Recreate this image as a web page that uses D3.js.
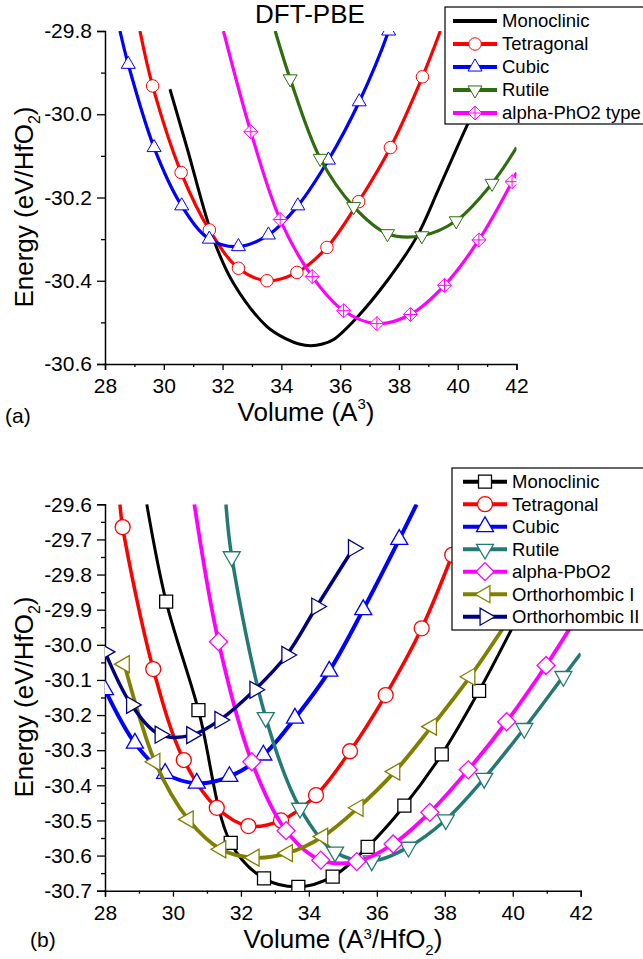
<!DOCTYPE html>
<html>
<head>
<meta charset="utf-8">
<script src="https://cdn.jsdelivr.net/npm/d3@7"></script>
<style>
  body { margin: 0; background: #fff; }
  svg text { font-family: "Liberation Sans", Arial, sans-serif; }
</style>
</head>
<body>
<svg id="chart" width="643" height="959"></svg>
<script>
// ---- axis ticks ----
const volTicks = [28, 29, 30, 31, 32, 33, 34, 35, 36, 37, 38, 39, 40, 41, 42];
const volLabels = [28, 30, 32, 34, 36, 38, 40, 42];
const eTicksA = [-30.6, -30.5, -30.4, -30.3, -30.2, -30.1, -30.0, -29.9, -29.8];
const eLabelsA = [-30.6, -30.4, -30.2, -30.0, -29.8];
const eTicksB = [-30.7, -30.65, -30.6, -30.55, -30.5, -30.45, -30.4, -30.35, -30.3, -30.25, -30.2,
                 -30.15, -30.1, -30.05, -30.0, -29.95, -29.9, -29.85, -29.8, -29.75, -29.7, -29.65, -29.6];
const eLabelsB = [-30.7, -30.6, -30.5, -30.4, -30.3, -30.2, -30.1, -30.0, -29.9, -29.8, -29.7, -29.6];

// ---- panel (a) DFT-PBE : [volume, energy] ----
// monoclinic has no symbols, only the fitted line
const monoA = [[30.21, -29.94], [30.78, -30.078], [31.69, -30.30], [32.37, -30.406], [33.51, -30.51],
               [34.2, -30.541], [34.6, -30.552], [35.0, -30.556], [35.4, -30.552], [35.78, -30.541],
               [36.55, -30.49], [37.6, -30.40], [38.61, -30.294], [39.35, -30.18], [40.09, -30.062],
               [40.55, -29.99], [41.1, -29.89]];
const tetA = [[29.62, -29.932], [30.59, -30.14], [31.55, -30.278], [32.54, -30.37], [33.51, -30.40],
              [34.53, -30.38], [35.55, -30.32], [36.63, -30.21], [37.71, -30.08], [38.8, -29.91]];
const tetATails = [[29.19, -29.8], [39.41, -29.8]];
const cubA = [[28.79, -29.88], [29.67, -30.08], [30.61, -30.22], [31.55, -30.30], [32.54, -30.318],
              [33.56, -30.29], [34.56, -30.22], [35.6, -30.11], [36.65, -29.97], [37.65, -29.80]];
const cubATails = [[28.51, -29.8], [37.9, -29.74]];
const rutA = [[34.3, -29.915], [35.32, -30.106], [36.46, -30.222], [37.61, -30.287], [38.78, -30.292],
              [39.95, -30.256], [41.17, -30.166]];
const rutATails = [[33.79, -29.8], [42.0, -30.08]];
const alpA = [[32.96, -30.042], [33.96, -30.253], [35.05, -30.39], [36.12, -30.472], [37.25, -30.503],
              [38.39, -30.481], [39.55, -30.411], [40.72, -30.302], [41.85, -30.162]];
const alpATails = [[32.03, -29.8], [42.0, -30.14]];

// ---- panel (b) ----
const monoB = [[29.80, -29.877], [30.75, -30.186], [31.70, -30.564], [32.68, -30.665], [33.69, -30.689],
               [34.70, -30.66], [35.73, -30.575], [36.81, -30.458], [37.91, -30.312], [39.01, -30.131]];
const monoBTails = [[29.23, -29.6], [40.1, -29.93]];
const tetB = [[28.52, -29.665], [29.42, -30.069], [30.32, -30.328], [31.29, -30.464], [32.22, -30.516],
              [33.18, -30.50], [34.21, -30.428], [35.21, -30.303], [36.26, -30.143], [37.32, -29.953],
              [38.22, -29.744]];
const tetBTails = [[28.44, -29.6], [38.7, -29.62]];
const cubB = [[28.0, -30.128], [28.88, -30.28], [29.77, -30.366], [30.70, -30.394], [31.66, -30.375],
              [32.66, -30.314], [33.59, -30.209], [34.60, -30.075], [35.6, -29.90], [36.66, -29.70]];
const cubBTails = [[27.9, -30.105], [37.17, -29.6]];
const rutB = [[31.73, -29.749], [32.73, -30.207], [33.74, -30.465], [34.77, -30.59], [35.85, -30.615],
              [36.93, -30.576], [38.03, -30.498], [39.16, -30.38], [40.34, -30.238], [41.49, -30.09]];
const rutBTails = [[31.56, -29.6], [42.0, -30.025]];
const alpB = [[31.34, -29.991], [32.32, -30.333], [33.33, -30.529], [34.35, -30.613], [35.41, -30.617],
              [36.48, -30.567], [37.56, -30.477], [38.69, -30.356], [39.82, -30.219], [40.98, -30.059]];
const alpBTails = [[30.63, -29.6], [41.7, -29.95]];
const orthIB = [[28.57, -30.055], [29.47, -30.333], [30.45, -30.497], [31.41, -30.582], [32.39, -30.606],
                [33.37, -30.593], [34.41, -30.546], [35.45, -30.464], [36.53, -30.361], [37.61, -30.233],
                [38.74, -30.091]];
const orthIBTails = [null, [39.8, -29.94]];
const orthIIB = [[28.0, -30.02], [28.78, -30.171], [29.62, -30.256], [30.55, -30.257], [31.38, -30.214],
                 [32.41, -30.128], [33.35, -30.029], [34.23, -29.891], [35.31, -29.725]];

const svg = d3.select("#chart");
const FONT = '"Liberation Sans", Arial, sans-serif';

// marker shapes
function markerPath(shape, size) {
    if (shape === "circle") return d3.symbol(d3.symbolCircle, Math.PI * size * size / 4)();
    if (shape === "square") return d3.symbol(d3.symbolSquare, size * size)();
    if (shape === "diamond") return d3.symbol(d3.symbolSquare, size * size / 2)();
    if (shape === "diamondX") {
        const r = size / 2;
        return `M0,${-r}L${r},0L0,${r}L${-r},0Z M0,${-r}L0,${r} M${-r},0L${r},0`;
    }
    // triangles
    return d3.symbol(d3.symbolTriangle, Math.sqrt(3) / 4 * size * size)();
}
const markerRot = { up: 0, down: 180, left: -90, right: 90 };

function drawMarker(g, shape, dir, size, color, sw, cx, cy) {
    const rot = shape === "diamond" ? 45 : (markerRot[dir] || 0);
    g.append("path")
        .attr("d", markerPath(shape, size))
        .attr("transform", `translate(${cx},${cy}) rotate(${rot})`)
        .attr("fill", "#fff")
        .attr("stroke", color)
        .attr("stroke-width", sw);
}

function drawPanel(p) {
    const x = d3.scaleLinear().domain([28, 42]).range([p.left, p.right]);
    const y = d3.scaleLinear().domain(p.yDomain).range([p.bottom, p.top]);
    const isIn = (arr, d) => arr.some(v => Math.abs(v - d) < 1e-6);

    svg.append("clipPath").attr("id", "clip-" + p.id)
        .append("rect")
        .attr("x", p.left).attr("y", p.top)
        .attr("width", p.right - p.left).attr("height", p.bottom - p.top);

    // axes
    svg.append("g")
        .attr("transform", "translate(0," + p.bottom + ")")
        .call(d3.axisBottom(x)
                .tickValues(volTicks)
                .tickSize(6)
                .tickPadding(8)
                .tickFormat(d => isIn(volLabels, d) ? d : ""))
        .call(g => g.selectAll(".tick").filter(d => !isIn(volLabels, d)).select("line").attr("y2", 3))
        .call(g => g.select(".domain").attr("stroke-width", 1.5))
        .call(g => g.selectAll(".tick line").attr("stroke-width", 1.3))
        .attr("font-size", 21).attr("font-family", FONT);

    svg.append("g")
        .attr("transform", "translate(" + p.left + ",0)")
        .call(d3.axisLeft(y)
                .tickValues(p.yTicks)
                .tickSize(8)
                .tickPadding(5)
                .tickFormat(d => isIn(p.yLabels, d) ? d.toFixed(1) : ""))
        .call(g => g.selectAll(".tick").filter(d => !isIn(p.yLabels, d)).select("line").attr("x2", -4))
        .call(g => g.select(".domain").attr("stroke-width", 1.5))
        .call(g => g.selectAll(".tick line").attr("stroke-width", 1.3))
        .attr("font-size", 21).attr("font-family", FONT);

    // curves and symbols
    const plot = svg.append("g").attr("clip-path", "url(#clip-" + p.id + ")");
    const line = d3.line()
        .x(d => x(d[0])).y(d => y(d[1]))
        .curve(d3.curveCatmullRom.alpha(0.5));

    p.series.forEach(s => {
        const tails = s.tails || [null, null];
        const pts = [tails[0], ...s.data, tails[1]].filter(d => d);
        plot.append("path")
            .attr("d", line(pts))
            .attr("fill", "none")
            .attr("stroke", s.color)
            .attr("stroke-width", s.width);
        if (s.shape) {
            s.data.forEach(d => drawMarker(plot, s.shape, s.dir, s.size, s.color, s.msw,
                                            x(d[0]), y(d[1])));
        }
    });

    // legend
    const lg = svg.append("g");
    lg.append("rect")
        .attr("x", p.legend.x).attr("y", p.legend.y)
        .attr("width", p.legend.w).attr("height", p.legend.h)
        .attr("fill", "#fff").attr("stroke", "#000").attr("stroke-width", 1.2);
    p.series.forEach((s, i) => {
        const ly = p.legend.y0 + i * p.legend.dy;
        lg.append("line")
            .attr("x1", p.legend.lx1).attr("x2", p.legend.lx2)
            .attr("y1", ly).attr("y2", ly)
            .attr("stroke", s.color).attr("stroke-width", 4);
        if (s.shape) {
            drawMarker(lg, s.shape, s.dir, s.size, s.color, s.msw,
                       (p.legend.lx1 + p.legend.lx2) / 2, ly);
        }
        lg.append("text")
            .attr("x", p.legend.tx).attr("y", ly)
            .attr("dy", "0.35em")
            .attr("font-size", 18.5)
            .text(s.label);
    });
}

drawPanel({
    id: "a",
    left: 105, right: 516.5, top: 31, bottom: 364,
    yDomain: [-30.6, -29.8], yTicks: eTicksA, yLabels: eLabelsA,
    series: [
        { label: "Monoclinic", data: monoA, color: "#000000", width: 3, shape: null },
        { label: "Tetragonal", data: tetA, tails: tetATails, color: "#ff0000", width: 3.2,
          shape: "circle", size: 12.5, msw: 1 },
        { label: "Cubic", data: cubA, tails: cubATails, color: "#0000ff", width: 3.2,
          shape: "triangle", dir: "up", size: 14, msw: 1 },
        { label: "Rutile", data: rutA, tails: rutATails, color: "#2f6b0f", width: 3.2,
          shape: "triangle", dir: "down", size: 14, msw: 1 },
        { label: "alpha-PhO2 type", data: alpA, tails: alpATails, color: "#ff00ff", width: 3.2,
          shape: "diamondX", size: 14, msw: 1 }
    ],
    legend: { x: 445, y: 7, w: 205, h: 117, y0: 21, dy: 23, lx1: 453, lx2: 497, tx: 502 }
});

drawPanel({
    id: "b",
    left: 105, right: 580.7, top: 504.3, bottom: 890.7,
    yDomain: [-30.7, -29.6], yTicks: eTicksB, yLabels: eLabelsB,
    series: [
        { label: "Monoclinic", data: monoB, tails: monoBTails, color: "#000000", width: 3,
          shape: "square", size: 13, msw: 1.3 },
        { label: "Tetragonal", data: tetB, tails: tetBTails, color: "#ff0000", width: 3.5,
          shape: "circle", size: 15, msw: 1.3 },
        { label: "Cubic", data: cubB, tails: cubBTails, color: "#0000ff", width: 4,
          shape: "triangle", dir: "up", size: 17, msw: 1.3 },
        { label: "Rutile", data: rutB, tails: rutBTails, color: "#237a74", width: 3.5,
          shape: "triangle", dir: "down", size: 17, msw: 1.3 },
        { label: "alpha-PbO2", data: alpB, tails: alpBTails, color: "#ff00ff", width: 3.8,
          shape: "diamond", size: 18, msw: 1.3 },
        { label: "Orthorhombic I", data: orthIB, tails: orthIBTails, color: "#808000", width: 3.8,
          shape: "triangle", dir: "left", size: 17, msw: 1.3 },
        { label: "Orthorhombic II", data: orthIIB, color: "#000080", width: 3.5,
          shape: "triangle", dir: "right", size: 17, msw: 1.3 }
    ],
    legend: { x: 452, y: 468, w: 200, h: 162, y0: 481.7, dy: 22.5, lx1: 463, lx2: 507, tx: 512 }
});

// ---- titles and labels ----
svg.append("text")
    .attr("x", 310).attr("y", 23)
    .attr("text-anchor", "middle").attr("font-size", 26)
    .text("DFT-PBE");

function yTitle(cy) {
    const t = svg.append("text")
        .attr("transform", `translate(33,${cy}) rotate(-90)`)
        .attr("text-anchor", "middle").attr("font-size", 26);
    t.append("tspan").text("Energy (eV/HfO");
    t.append("tspan").attr("font-size", 16).attr("dy", 7).text("2");
    t.append("tspan").attr("dy", -7).text(")");
}
yTitle(207);
yTitle(697);

const xtA = svg.append("text")
    .attr("x", 306).attr("y", 421)
    .attr("text-anchor", "middle").attr("font-size", 26);
xtA.append("tspan").text("Volume (A");
xtA.append("tspan").attr("font-size", 15).attr("dy", -12).text("3");
xtA.append("tspan").attr("dy", 12).text(")");

const xtB = svg.append("text")
    .attr("x", 343).attr("y", 948)
    .attr("text-anchor", "middle").attr("font-size", 26);
xtB.append("tspan").text("Volume (A");
xtB.append("tspan").attr("font-size", 15).attr("dy", -9).text("3");
xtB.append("tspan").attr("dy", 9).text("/HfO");
xtB.append("tspan").attr("font-size", 15).attr("dy", 7).text("2");
xtB.append("tspan").attr("dy", -7).text(")");

svg.append("text").attr("x", 5).attr("y", 423).attr("font-size", 21).text("(a)");
svg.append("text").attr("x", 30).attr("y", 947).attr("font-size", 21).text("(b)");
</script>
</body>
</html>
